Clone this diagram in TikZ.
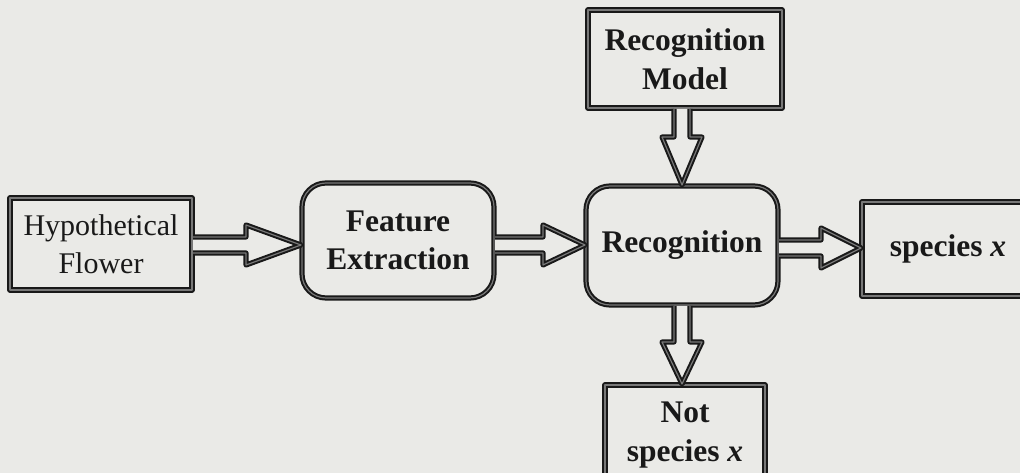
\documentclass[tikz,border=0pt]{standalone}
\usepackage{fontspec}
\setmainfont{Liberation Serif}
\usetikzlibrary{calc}
\definecolor{bg}{RGB}{234,234,231}
\definecolor{ink}{RGB}{25,25,25}
\tikzset{
  dbl/.style={draw=ink, line width=2pt, double={rgb,255:red,120;green,120;blue,120}, double distance=1.2pt, line join=round},
  box/.style={dbl, fill=bg, inner sep=0pt, align=center, text=ink, font=\fontsize{30}{38}\selectfont},
  rbox/.style={box, rounded corners=24pt, font=\bfseries\fontsize{31.5}{38}\selectfont},
  bbox/.style={box, font=\bfseries\fontsize{31.5}{39}\selectfont},
  barrow/.style={dbl, fill=bg}
}
\newcommand\myharrow[3]{%
  \draw[barrow] let \p1=(#1), \p2=(#2) in
    (\x1,\y2+8pt) -- (\x2-#3,\y2+8pt) -- (\x2-#3,\y2+20pt) -- (\x2,\y2)
    -- (\x2-#3,\y2-20pt) -- (\x2-#3,\y2-8pt) -- (\x1,\y2-8pt);}
\newcommand\myvarrow[3]{%
  \draw[barrow] let \p1=(#1), \p2=(#2) in
    (\x2-8pt,\y1) -- (\x2-8pt,\y2+#3) -- (\x2-20pt,\y2+#3) -- (\x2,\y2)
    -- (\x2+20pt,\y2+#3) -- (\x2+8pt,\y2+#3) -- (\x2+8pt,\y1);}
\begin{document}
\begin{tikzpicture}[x=1pt,y=1pt]
\useasboundingbox (0,0) rectangle (1020,473);
\clip (0,0) rectangle (1020,473);
\fill[bg] (0,0) rectangle (1020,473);
\node[box, minimum width=182pt, minimum height=92pt] (hf) at (101,229) {Hypothetical\\Flower};
\node[rbox, minimum width=192pt, minimum height=115pt] (fe) at (398,232.5) {Feature\\Extraction};
\node[rbox, minimum width=192pt, minimum height=119pt] (rec) at (682,227.5) {Recognition};
\node[bbox, minimum width=172pt, minimum height=94pt] (sp) at (948,224) {species \textit{x}};
\node[bbox, minimum width=194pt, minimum height=98pt] (rm) at (685,414) {Recognition\\Model};
\node[bbox, minimum width=160pt, minimum height=100pt] (ns) at (685,38) {Not\\species \textit{x}};
\coordinate (t1) at (fe.west |- 0,228);
\coordinate (t2) at (rec.west |- 0,228);
\coordinate (t3) at (sp.west |- 0,225);
\coordinate (t4) at (682,0 |- rec.north);
\coordinate (t5) at (682,0 |- ns.north);
\myharrow{hf.east}{t1}{55pt}
\myharrow{fe.east}{t2}{42pt}
\myharrow{rec.east}{t3}{40pt}
\myvarrow{rm.south}{t4}{48pt}
\myvarrow{rec.south}{t5}{42pt}
\end{tikzpicture}
\end{document}
